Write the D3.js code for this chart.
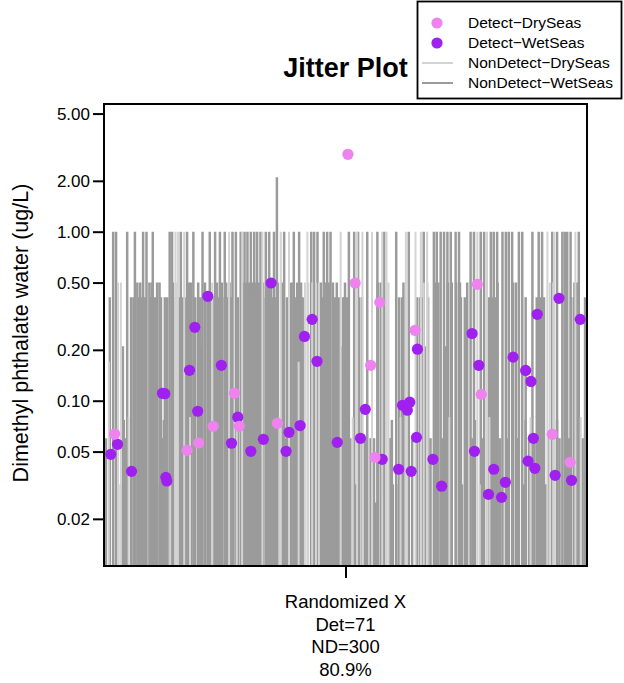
<!DOCTYPE html>
<html><head><meta charset="utf-8">
<script src="https://cdn.jsdelivr.net/npm/d3@7"></script>
<style>body{margin:0;background:#fff}svg{display:block}text{font-family:"Liberation Sans",Arial,sans-serif;fill:#000}</style>
</head><body><svg id="c" width="624" height="683"></svg>
<script>
// ---------- DATA ----------
const yTicks = [0.02, 0.05, 0.10, 0.20, 0.50, 1.00, 2.00, 5.00];
const yTickLabels = ["0.02","0.05","0.10","0.20","0.50","1.00","2.00","5.00"];
const xLabelLines = ["Randomized X", "Det=71", "ND=300", "80.9%"];
const legendLabels = ["Detect\u2212DrySeas","Detect\u2212WetSeas","NonDetect\u2212DrySeas","NonDetect\u2212WetSeas"];

// Detects (jittered x, concentration ug/L)
const detDryX = [1.005,1.020,1.071,1.144,1.273,0.770,1.281,1.052,0.522,0.726,0.780,0.859,0.672,0.696,1.061,1.428,1.465];
const detDryY = [2.871,0.497,0.382,0.261,0.488,0.1106,0.109,0.162,0.0635,0.0706,0.0706,0.0735,0.0509,0.0562,0.0462,0.0633,0.0432];
const detWetX = [0.514,0.528,0.557,0.621,0.626,0.628,0.630,0.677,0.688,0.694,0.715,0.743,0.764,0.777,0.804,0.830,0.846,0.877,0.883,0.906,0.915,0.931,0.941,0.983,1.031,1.041,1.076,1.110,1.118,1.128,1.133,1.136,1.147,1.149,1.181,1.199,1.262,1.267,1.276,1.296,1.307,1.323,1.331,1.347,1.373,1.384,1.389,1.378,1.392,1.397,1.434,1.442,1.468,1.486];
const detWetY = [0.0482,0.0552,0.0382,0.1106,0.1100,0.0352,0.0335,0.1513,0.2718,0.0866,0.4147,0.1620,0.0560,0.0799,0.0502,0.0591,0.497,0.0502,0.0650,0.0713,0.240,0.303,0.171,0.0567,0.0599,0.0889,0.0450,0.0393,0.0940,0.0879,0.0980,0.0382,0.0607,0.2017,0.0450,0.0312,0.2498,0.0502,0.162,0.0279,0.0393,0.0268,0.0329,0.181,0.151,0.130,0.0599,0.0439,0.0398,0.3245,0.0362,0.4036,0.0338,0.303];

// Non-detects: jittered x positions, grouped by detection limit (ug/L)
const ndWetX_210 = [0.858];
const ndWetX_100 = [0.519,0.525,0.548,0.564,0.581,0.588,0.601,0.636,0.641,0.659,0.672,0.685,0.704,0.719,0.730,0.740,0.750,
  0.766,0.773,0.783,0.791,0.797,0.804,0.811,0.817,0.824,0.835,0.842,0.852,0.873,0.893,0.904,0.929,0.935,0.942,0.955,0.962,0.969,
  1.007,1.018,1.026,1.045,1.066,1.080,1.105,1.131,1.162,1.183,1.189,1.197,1.204,1.211,1.218,1.228,1.235,
  1.259,1.266,1.280,1.287,1.301,1.307,1.314,1.325,1.332,1.338,1.345,1.359,1.366,1.387,1.400,1.407,1.428,1.438,1.449,1.454,1.459,1.466,1.483];
const ndWetX_050 = [0.569,0.575,0.594,0.599,0.610,0.615,0.643,0.676,0.680,0.695,0.709,0.734,0.744,
  0.753,0.760,0.788,0.794,0.800,0.807,0.815,0.821,0.829,0.837,0.846,0.860,0.868,0.887,0.892,0.900,0.908,0.949,0.957,0.966,0.974,0.982,
  0.999,1.067,1.073,1.120,1.185,1.192,1.212,1.220,1.229,1.237,1.252,1.315,1.347,1.353,1.474,1.479];
const ndWetX_041 = [0.512,0.556,0.561,0.572,0.579,0.585,0.597,0.606,0.618,0.626,0.631,0.649,0.655,0.664,0.670,0.689,0.696,0.700,0.710,0.715,0.725,0.736,0.745,
  0.756,0.763,0.777,0.810,0.835,0.850,0.856,0.879,0.897,0.912,0.952,0.978,0.986,0.995,
  0.997,1.003,1.028,1.034,1.111,1.117,1.148,1.154,1.160,1.171,1.239,1.247,
  1.297,1.303,1.309,1.373,1.396,1.403,1.411,1.467,1.473,1.496];
const ndWetX_021 = [0.539,0.702,0.991,1.164,1.208];
const ndWetX_0077 = [0.541,0.624,1.268,1.373,1.438,1.096];
const ndWetX_006 = [0.504,0.545,0.621,0.668,0.768,0.826,0.840,0.876,0.944,0.971,1.010,1.040,1.052,1.059,1.091,1.094,1.138,1.176,1.201,1.248,1.263,1.284,1.294,1.320,1.335,1.357,1.380,1.391,1.420,1.443,1.463,1.491];
const ndWetX_0032 = [0.535,0.610,0.738,0.877,0.992,1.022,1.098,1.105,1.198,1.241,1.370,1.413,1.418];
const ndWetX_0025 = [1.063,1.338];

const ndDryX_100 = [0.648,0.653,0.666,0.759,0.786,0.828,0.866,0.883,0.921,0.990,1.024,1.035,1.055,1.076,1.085,1.125,1.145,1.156,1.169,1.273,1.293,1.418,1.432,1.476];
const ndDryX_050 = [0.529,0.535,0.650,0.724,0.916,0.923,0.931,0.939,0.945,1.084,1.089,1.162,1.170,1.423,1.430];
const ndDryX_017 = [0.510,0.903];
const ndDryX_008 = [0.551,0.678,0.775,0.863,1.015,1.114,1.215,1.298,1.383,1.487];
const ndDryX_0032 = [0.637,1.278];

// ---------- BUILD ----------
const wetGroups = [[2.1, ndWetX_210],[1.0, ndWetX_100],[0.5, ndWetX_050],[0.41, ndWetX_041],[0.21, ndWetX_021],
  [0.077, ndWetX_0077],[0.06, ndWetX_006],[0.032, ndWetX_0032],[0.025, ndWetX_0025]];
const dryGroups = [[1.0, ndDryX_100],[0.5, ndDryX_050],[0.17, ndDryX_017],[0.08, ndDryX_008],[0.032, ndDryX_0032]];
const ndWet = wetGroups.flatMap(([dl, xs]) => xs.map(x => ({x, dl})));
const ndDry = dryGroups.flatMap(([dl, xs]) => xs.map(x => ({x, dl})));

const colDryPt = "#EE82EE", colWetPt = "#A020F0", colDryLn = "#D3D3D3", colWetLn = "#9B9B9B";
const L = 104, R = 587, T = 104, B = 566;

const svg = d3.select("#c");
const x = d3.scaleLinear().domain([0.5, 1.5]).range([L, R]);
const y = d3.scaleLog().domain([0.01052, 5.696]).range([B, T]);

svg.append("defs").append("clipPath").attr("id","pc").append("rect")
  .attr("x", L).attr("y", T).attr("width", R - L).attr("height", B - T);

const g = svg.append("g").attr("clip-path","url(#pc)");
g.selectAll("line.w").data(ndWet).join("line").attr("class","w")
  .attr("x1", d => x(d.x)).attr("x2", d => x(d.x))
  .attr("y1", B + 2).attr("y2", d => y(d.dl))
  .attr("stroke", colWetLn).attr("stroke-width", 2.5);
g.selectAll("line.d").data(ndDry).join("line").attr("class","d")
  .attr("x1", d => x(d.x)).attr("x2", d => x(d.x))
  .attr("y1", B + 2).attr("y2", d => y(d.dl))
  .attr("stroke", colDryLn).attr("stroke-width", 2);

const wetPts = detWetX.map((v, i) => ({x: v, y: detWetY[i]}));
const dryPts = detDryX.map((v, i) => ({x: v, y: detDryY[i]}));
g.selectAll("circle.w").data(wetPts).join("circle").attr("class","w")
  .attr("cx", d => x(d.x)).attr("cy", d => y(d.y)).attr("r", 5.6).attr("fill", colWetPt);
g.selectAll("circle.d").data(dryPts).join("circle").attr("class","d")
  .attr("cx", d => x(d.x)).attr("cy", d => y(d.y)).attr("r", 5.6).attr("fill", colDryPt);

// box
svg.append("rect").attr("x", L).attr("y", T).attr("width", R - L).attr("height", B - T)
  .attr("fill","none").attr("stroke","#000").attr("stroke-width", 2);

// y axis
const yAxis = d3.axisLeft(y).tickValues(yTicks).tickFormat((d, i) => yTickLabels[i]).tickSize(11).tickPadding(3);
const ya = svg.append("g").attr("transform", `translate(${L},0)`).call(yAxis);
ya.select(".domain").attr("d", `M0,${y(5)}V${y(0.02)}`).attr("stroke-width", 2);
ya.selectAll(".tick line").attr("stroke-width", 2);
ya.selectAll(".tick text").style("font-family", '"Liberation Sans", Arial, sans-serif').style("font-size", "17px").attr("fill","#000");

// x axis
const xAxis = d3.axisBottom(x).tickValues([1]).tickFormat(() => "").tickSize(12);
const xa = svg.append("g").attr("transform", `translate(0,${B})`).call(xAxis);
xa.select(".domain").remove();
xa.selectAll(".tick line").attr("stroke-width", 2);

const xl = svg.append("text").attr("text-anchor","middle").style("font-size","18.5px");
xLabelLines.forEach((t, i) => {
  xl.append("tspan").attr("x", x(1)).attr("y", 608 + i * 22.5).text(t);
});

// y label
svg.append("text").attr("transform", `translate(28,${(T + B) / 2 - 2}) rotate(-90)`)
  .attr("text-anchor","middle").style("font-size","21.5px").text("Dimethyl phthalate water  (ug/L)");

// title
svg.append("text").attr("x", x(1)).attr("y", 77).attr("text-anchor","middle")
  .style("font-size","27px").style("font-weight","bold").text("Jitter Plot");

// legend
const lg = svg.append("g");
lg.append("rect").attr("x", 417.5).attr("y", 1.5).attr("width", 204).attr("height", 97)
  .attr("fill","#fff").attr("stroke","#000").attr("stroke-width", 1.8);
const rowsY = [23, 43, 63, 83];
lg.append("circle").attr("cx", 437).attr("cy", rowsY[0]).attr("r", 5.6).attr("fill", colDryPt);
lg.append("circle").attr("cx", 437).attr("cy", rowsY[1]).attr("r", 5.6).attr("fill", colWetPt);
lg.append("line").attr("x1", 422).attr("x2", 453).attr("y1", rowsY[2]).attr("y2", rowsY[2]).attr("stroke", colDryLn).attr("stroke-width", 2);
lg.append("line").attr("x1", 422).attr("x2", 453).attr("y1", rowsY[3]).attr("y2", rowsY[3]).attr("stroke", colWetLn).attr("stroke-width", 2);
legendLabels.forEach((t, i) => {
  lg.append("text").attr("x", 468).attr("y", rowsY[i]).attr("dy", "0.35em").style("font-size","15.5px").text(t);
});
</script></body></html>
